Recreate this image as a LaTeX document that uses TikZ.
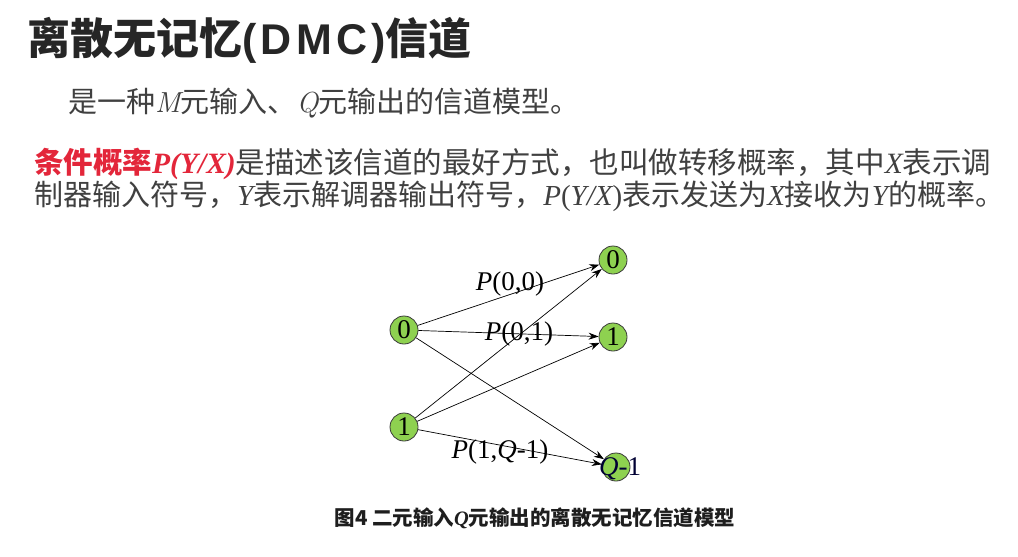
\documentclass[tikz,border=0pt]{standalone}
\usepackage{fontspec}
\usetikzlibrary{arrows.meta}
\setmainfont{Noto Sans CJK SC}
\newfontfamily\latsans[LetterSpace=10]{Liberation Sans}
\newfontfamily\serif{Liberation Serif}
\newfontfamily\lmr{Latin Modern Roman}
\newcommand\serit[1]{{\serif\itshape #1}}
\newcommand\serup[1]{{\serif #1}}
\newcommand\lmit[1]{{\lmr\itshape #1}}
\definecolor{titlegray}{HTML}{262626}
\definecolor{bodygray}{HTML}{404040}
\definecolor{hl}{HTML}{E3263A}
\definecolor{nodegreen}{HTML}{8ED150}
\definecolor{rimgray}{HTML}{3A3A3A}
\definecolor{capgray}{HTML}{1E1E1E}
\tikzset{
  headline/.style={anchor=base west, inner sep=0pt, text=titlegray,
    font=\bfseries\fontsize{43}{43}\selectfont},
  bodyline/.style={anchor=base west, inner sep=0pt, text=bodygray},
  state/.style={circle, draw=rimgray, fill=nodegreen, line width=0.8pt,
    minimum size=28pt, inner sep=0pt, font=\serif\fontsize{27}{27}\selectfont},
  plabel/.style={inner sep=0pt, font=\serif\fontsize{27}{27}\selectfont},
  link/.style={-{Stealth[length=10pt,width=7pt]}, line width=0.7pt, black},
  caption/.style={anchor=base, inner sep=0pt, text=capgray,
    font=\bfseries\fontsize{20.5}{20.5}\selectfont}
}
\begin{document}
\begin{tikzpicture}[x=1pt,y=-1pt]
\useasboundingbox[fill=white] (0,0) rectangle (1018,557);

% heading and description
\node[headline] (title) at (27,54) {离散无记忆{\latsans(DMC)}信道};
\node[bodyline, font=\fontsize{29}{29}\selectfont] (intro) at (68,112)
  {是一种\lmit{M}元输入、\lmit{Q}元输出的信道模型。};
\node[bodyline, font=\fontsize{29.5}{29.5}\selectfont] (def1) at (34,173)
  {{\color{hl}\bfseries 条件概率{\serif\bfseries\itshape P(Y/X)}}是描述该信道的最好方式，也叫做转移概率，其中\serit{X}表示调};
\node[bodyline, font=\fontsize{29}{29}\selectfont] (def2) at (34,205)
  {制器输入符号，\serit{Y}表示解调器输出符号，\serit{P}\serup{(}\serit{Y/X}\serup{)}表示发送为\serit{X}接收为\serit{Y}的概率。};

% transition labels (drawn first, the arrows run across them)
\node[plabel] (p00) at (510,284) {\serit{P}(0,0)};
\node[plabel] (p01) at (519,334) {\serit{P}(0,1)};
\node[plabel] (p1q) at (500,452) {\serit{P}(1,\serit{Q}-1)};

% input and output symbols
\node[state] (x0) at (404,330) {0};
\node[state] (x1) at (404,427) {1};
\node[state] (y0) at (613,260) {0};
\node[state] (y1) at (613,337) {1};
\node[state] (yq) at (616,467) {};
\node[plabel, text=black!80!blue] (yqlab) at (620,469) {\serit{Q}-1};

% transitions
\draw[link] (x0) -- (y0);
\draw[link] (x0) -- (y1);
\draw[link] (x0) -- (yq);
\draw[link] (x1) -- (y0);
\draw[link] (x1) -- (y1);
\draw[link] (x1) -- (yq);

% caption
\node[caption] (cap) at (535,525) {图4 二元输入{\serif\bfseries\itshape Q}元输出的离散无记忆信道模型};
\end{tikzpicture}
\end{document}
